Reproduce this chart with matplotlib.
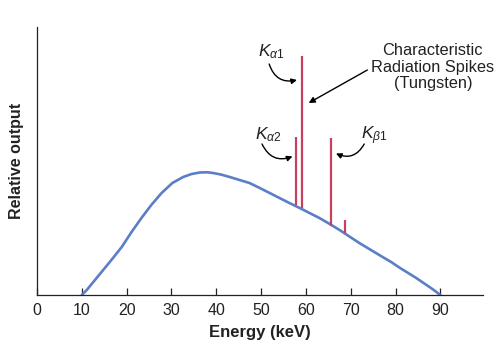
import matplotlib
matplotlib.use("Agg")
import matplotlib.pyplot as plt

plt.rcParams["font.family"] = ["Liberation Sans", "DejaVu Sans"]
plt.rcParams["mathtext.fontset"] = "custom"
plt.rcParams["mathtext.rm"] = "Liberation Sans"
plt.rcParams["mathtext.it"] = "Liberation Sans:italic"

# continuous (bremsstrahlung) spectrum
energy = [10, 11.1, 12.2, 14.4, 16.6, 18.9, 21.1, 23.3, 25.5, 27.8, 30.2, 32.6, 34.5,
          36.3, 38, 39.3, 41, 43, 45.2, 47.4, 49.7, 51.9, 54.1, 56.3, 58.6,
          60.8, 63, 65.3, 67.5, 69.7, 71.9, 74.5, 77.1, 79, 81, 82.8, 84.6,
          86.4, 88.2, 90]
output = [0, 5, 11, 23, 35, 48, 63, 77, 90, 102, 112, 118, 121,
          122.5, 122.7, 122, 120.5, 118, 115, 112, 107, 102, 97, 92, 87,
          82, 77, 71, 65, 58.5, 52, 45, 38, 33, 27, 22, 17,
          11.5, 6, 0]

# characteristic spikes (tungsten)
spike_energy = [57.8, 59.1, 65.7, 68.8]
spike_base = [90, 87, 69, 62]
spike_top = [158, 239, 157, 75]

xticks = [0, 10, 20, 30, 40, 50, 60, 70, 80, 90]

CURVE = "#5b7fc6"
SPIKE = "#c9405e"
INK = "#222222"

fig = plt.figure(figsize=(5.0, 3.54), dpi=100)
ax = fig.add_axes([0.074, 0.1667, 0.892, 0.757])

ax.plot(energy, output, color=CURVE, lw=1.9, solid_capstyle="round",
        solid_joinstyle="round", zorder=2)
ax.vlines(spike_energy, spike_base, spike_top, color=SPIKE, lw=1.6, zorder=3)

ax.set_xlim(0, 99.5)
ax.set_ylim(0, 268)
ax.set_xticks(xticks)
ax.set_yticks([])
ax.tick_params(axis="x", direction="in", length=5, width=0.9, labelsize=11.5,
               pad=6, colors=INK)
for s in ["top", "right"]:
    ax.spines[s].set_visible(False)
for s in ["left", "bottom"]:
    ax.spines[s].set_color(INK)
    ax.spines[s].set_linewidth(0.9)

ax.set_xlabel("Energy (keV)", fontsize=12, fontweight="bold", labelpad=5, color=INK)
ax.set_ylabel("Relative output", fontsize=11.5, fontweight="bold", labelpad=9, color=INK)

# labels and arrows
ax.text(88.3, 228, "Characteristic\nRadiation Spikes\n(Tungsten)", ha="center", va="center",
        fontsize=11.8, linespacing=1.12, color=INK)
ax.annotate("", xy=(60.6, 192), xytext=(73.7, 225),
            arrowprops=dict(arrowstyle="-|>", color="black", lw=1.0, mutation_scale=9,
                            shrinkA=0, shrinkB=0))

ax.text(49.4, 243, r"$K_{\alpha1}$", fontsize=12.5, color=INK, ha="left", va="center")
ax.annotate("", xy=(58.0, 215), xytext=(51.8, 231),
            arrowprops=dict(arrowstyle="-|>", color="black", lw=1.0, mutation_scale=8,
                            connectionstyle="arc3,rad=0.45", shrinkA=0, shrinkB=0))

ax.text(48.6, 160, r"$K_{\alpha2}$", fontsize=12.5, color=INK, ha="left", va="center")
ax.annotate("", xy=(57.0, 138.5), xytext=(50.2, 151),
            arrowprops=dict(arrowstyle="-|>", color="black", lw=1.0, mutation_scale=8,
                            connectionstyle="arc3,rad=0.45", shrinkA=0, shrinkB=0))

ax.text(72.3, 159, r"$K_{\beta1}$", fontsize=12.5, color=INK, ha="left", va="center")
ax.annotate("", xy=(66.7, 141.5), xytext=(73.0, 151),
            arrowprops=dict(arrowstyle="-|>", color="black", lw=1.0, mutation_scale=8,
                            connectionstyle="arc3,rad=-0.45", shrinkA=0, shrinkB=0))

fig.savefig("out.png", dpi=100)
